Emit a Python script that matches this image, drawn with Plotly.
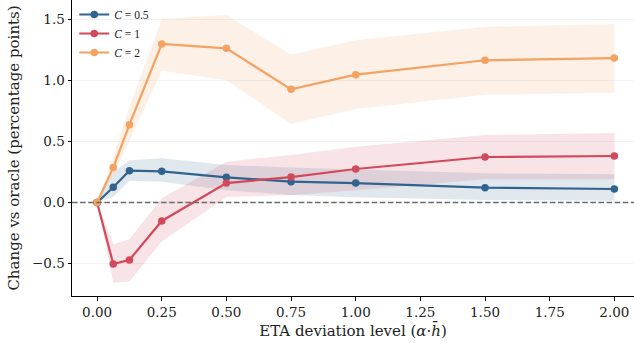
import plotly.graph_objects as go

eta_levels = [0, 0.0625, 0.125, 0.25, 0.5, 0.75, 1.0, 1.5, 2.0]

c05_mean = [0, 0.124, 0.260, 0.255, 0.206, 0.170, 0.159, 0.121, 0.110]
c05_low = [0, 0.047, 0.178, 0.170, 0.100, 0.061, 0.042, 0.020, 0.015]
c05_high = [0, 0.250, 0.345, 0.361, 0.307, 0.285, 0.270, 0.239, 0.230]

c1_mean = [0, -0.503, -0.470, -0.151, 0.159, 0.208, 0.274, 0.372, 0.380]
c1_low = [0, -0.656, -0.647, -0.320, 0.045, 0.060, 0.100, 0.190, 0.190]
c1_high = [0, -0.342, -0.301, 0.034, 0.334, 0.388, 0.456, 0.552, 0.568]

c2_mean = [0, 0.285, 0.636, 1.296, 1.261, 0.925, 1.045, 1.163, 1.181]
c2_low = [0, 0.225, 0.500, 1.078, 1.000, 0.642, 0.765, 0.881, 0.898]
c2_high = [0, 0.374, 0.780, 1.503, 1.533, 1.210, 1.326, 1.437, 1.460]

series_names = ["<i>C</i> = 0.5", "<i>C</i> = 1", "<i>C</i> = 2"]
colors = ["#30638E", "#D1495B", "#F4A261"]
fills = ["rgba(48,99,142,0.15)", "rgba(209,73,91,0.15)", "rgba(244,162,97,0.15)"]

means = [c05_mean, c1_mean, c2_mean]
lows = [c05_low, c1_low, c2_low]
highs = [c05_high, c1_high, c2_high]

fig = go.Figure()

for lo, hi, fc in zip(lows, highs, fills):
    fig.add_trace(go.Scatter(x=eta_levels, y=lo, mode="lines", line=dict(width=0),
                             showlegend=False, hoverinfo="skip"))
    fig.add_trace(go.Scatter(x=eta_levels, y=hi, mode="lines", line=dict(width=0),
                             fill="tonexty", fillcolor=fc, showlegend=False, hoverinfo="skip"))

for name, m, col in zip(series_names, means, colors):
    fig.add_trace(go.Scatter(x=eta_levels, y=m, mode="lines+markers", name=name,
                             line=dict(color=col, width=2.2),
                             marker=dict(color=col, size=7.5)))

fig.add_shape(type="line", xref="paper", yref="y", x0=0, x1=1, y0=0, y1=0,
              line=dict(color="#6a6a6a", width=1.5, dash="5.5px,2.6px"), layer="above")

tick_font = dict(family="DejaVu Serif", size=13.5, color="#222222")

fig.update_layout(
    width=634, height=343,
    margin=dict(l=72, r=0, t=0, b=47),
    paper_bgcolor="white", plot_bgcolor="white",
    font=dict(family="DejaVu Serif", size=12.6, color="#222222"),
    legend=dict(x=0.004, y=1.0, xanchor="left", yanchor="top", traceorder="normal",
                bgcolor="rgba(255,255,255,0)", itemwidth=30, tracegroupgap=0,
                font=dict(family="Liberation Serif", size=11.5, color="#222222")),
    xaxis=dict(range=[-0.097, 2.076], tickvals=[0, 0.25, 0.5, 0.75, 1.0, 1.25, 1.5, 1.75, 2.0],
               tickformat=".2f", showgrid=False, zeroline=False, showline=True,
               linecolor="black", linewidth=1, ticks="outside", ticklen=3.5, tickwidth=0.8,
               tickcolor="black", tickfont=tick_font,
               title=dict(text="ETA deviation level (<i>α</i>·<i>h̄</i>)", standoff=6)),
    yaxis=dict(range=[-0.765, 1.656], tickvals=[-0.5, 0, 0.5, 1.0, 1.5], tickformat=".1f",
               showgrid=True, gridcolor="#f2f2f2", gridwidth=1, zeroline=False, showline=True,
               linecolor="black", linewidth=1, ticks="outside", ticklen=3.5, tickwidth=0.8,
               tickcolor="black", tickfont=tick_font,
               title=dict(text="Change vs oracle (percentage points)", standoff=8)),
)

fig.write_html("out.html")
